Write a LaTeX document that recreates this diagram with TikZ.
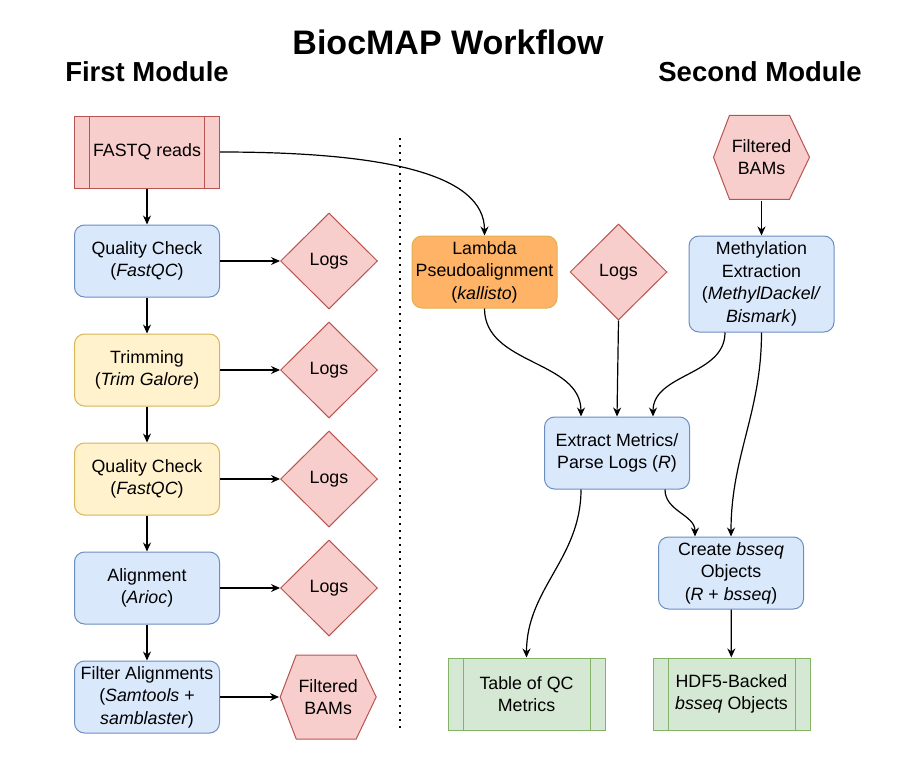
\documentclass[tikz,border=0pt]{standalone}
\usepackage{fontspec}
\setmainfont{Liberation Sans}
\usetikzlibrary{arrows.meta,positioning}
\usetikzlibrary{shapes.geometric}
\definecolor{redfill}{HTML}{F8CECC}
\definecolor{redline}{HTML}{B85450}
\definecolor{bluefill}{HTML}{DAE8FC}
\definecolor{blueline}{HTML}{6C8EBF}
\definecolor{yelfill}{HTML}{FFF2CC}
\definecolor{yelline}{HTML}{D6B656}
\definecolor{grnfill}{HTML}{D5E8D4}
\definecolor{grnline}{HTML}{82B366}
\definecolor{orgfill}{HTML}{FFB366}
\definecolor{orgline}{HTML}{E0B050}
\newcommand\nodefont{\fontsize{17.8}{22.5}\selectfont}
\tikzset{
  box/.style={draw, rounded corners=10pt, line width=1pt, minimum width=145pt, minimum height=72pt, align=center, font=\nodefont},
  bluebox/.style={box, fill=bluefill, draw=blueline},
  yelbox/.style={box, fill=yelfill, draw=yelline},
  orgbox/.style={box, fill=orgfill, draw=orgline},
  procbox/.style={draw=#1, line width=1pt, minimum width=157pt, minimum height=72pt, align=center, font=\nodefont,
    path picture={\draw[#1, line width=1pt] ([xshift=15pt]path picture bounding box.north west) -- ([xshift=15pt]path picture bounding box.south west)
      ([xshift=-15pt]path picture bounding box.north east) -- ([xshift=-15pt]path picture bounding box.south east);}},
  logs/.style={diamond, aspect=1, draw=redline, fill=redfill, line width=1pt, minimum width=97pt, minimum height=96pt, inner sep=0pt, font=\nodefont},
  hexbox/.style={minimum width=98pt, minimum height=86pt, align=center, font=\nodefont,
    path picture={\filldraw[draw=redline, fill=redfill, line width=1pt]
      ([xshift=1pt]path picture bounding box.west) -- ([xshift=17pt,yshift=-1pt]path picture bounding box.north west)
      -- ([xshift=-21pt,yshift=-1pt]path picture bounding box.north east) -- ([xshift=-1pt]path picture bounding box.east)
      -- ([xshift=-21pt,yshift=1pt]path picture bounding box.south east) -- ([xshift=17pt,yshift=1pt]path picture bounding box.south west) -- cycle;}},
  arr/.style={line width=1.2pt, -{Stealth[length=9pt,width=8pt]}}
}

\begin{document}
\begin{tikzpicture}[x=1pt,y=-1pt]
\useasboundingbox (0,0) rectangle (908,768);
% headings
\node[font=\bfseries\fontsize{34}{40}\selectfont] (title) at (448,42) {BiocMAP Workflow};
\node[font=\bfseries\fontsize{27.5}{32}\selectfont] (first) at (147,72) {First Module};
\node[font=\bfseries\fontsize{27.5}{32}\selectfont] (second) at (760,72) {Second Module};
% first module
\node[procbox=redline, fill=redfill, minimum width=145pt] (fastq) at (147,152) {FASTQ reads};
\node[bluebox, below=36pt of fastq] (qcA) {Quality Check\\(\textit{FastQC})};
\node[yelbox, below=36pt of qcA] (trim) {Trimming\\(\textit{Trim Galore})};
\node[yelbox, below=36pt of trim] (qcB) {Quality Check\\(\textit{FastQC})};
\node[bluebox, below=36pt of qcB] (align) {Alignment\\(\textit{Arioc})};
\node[bluebox, below=36pt of align] (filter) {Filter Alignments\\(\textit{Samtools} +\\\textit{samblaster})};
\node[logs, right=60pt of qcA] (logsA) {Logs};
\node[logs, right=60pt of trim] (logsB) {Logs};
\node[logs, right=60pt of qcB] (logsC) {Logs};
\node[logs, right=60pt of align] (logsD) {Logs};
\node[hexbox, right=59pt of filter] (bamsA) {Filtered\\BAMs};
% separator
\coordinate (sepTop) at (400,138);
\coordinate (sepBot) at (400,730);
\draw[line width=1.5pt, dash pattern=on 1.5pt off 5.5pt] (sepTop) -- (sepBot);
% second module
\node[orgbox] (lambda) at (484.5,272) {Lambda\\Pseudoalignment\\(\textit{kallisto})};
\node[logs, right=12pt of lambda] (logsE) {Logs};
\node[bluebox, minimum height=96pt] (methyl) at (761.5,284) {Methylation\\Extraction\\(\textit{MethylDackel/}\\\textit{Bismark})};
\node[hexbox, above=35pt of methyl] (bamsB) {Filtered\\BAMs};
\node[bluebox] (extract) at (617,453) {Extract Metrics/\\Parse Logs (\textit{R})};
\node[bluebox] (create) at (731,573) {Create \textit{bsseq}\\Objects\\(\textit{R} + \textit{bsseq})};
\node[procbox=grnline, fill=grnfill] (qctable) at (526.5,694) {Table of QC\\Metrics};
\node[procbox=grnline, fill=grnfill] (hdf) at (731.5,694) {HDF5-Backed\\\textit{bsseq} Objects};
% connectors
\draw[arr] (fastq) -- (qcA);
\draw[arr] (qcA) -- (trim);
\draw[arr] (trim) -- (qcB);
\draw[arr] (qcB) -- (align);
\draw[arr] (align) -- (filter);
\draw[arr] (qcA) -- (logsA);
\draw[arr] (trim) -- (logsB);
\draw[arr] (qcB) -- (logsC);
\draw[arr] (align) -- (logsD);
\draw[arr] (filter) -- (bamsA);
\draw[arr] (fastq.east) .. controls ([xshift=170pt]fastq.east) and ([yshift=60pt]lambda.north) .. (lambda.north);
\draw[arr] (bamsB) -- (methyl);
\draw[arr] (lambda.south) to[out=-90,in=90] ([xshift=-36pt]extract.north);
\draw[arr] (logsE.south) -- (extract.north);
\draw[arr] ([xshift=-36.5pt]methyl.south) to[out=-90,in=90] ([xshift=36pt]extract.north);
\draw[arr] (methyl.south) to[out=-90,in=90] (create.north);
\draw[arr] ([xshift=-36pt]extract.south) to[out=-90,in=90] (qctable.north);
\draw[arr] ([xshift=48pt]extract.south) to[out=-90,in=90] ([xshift=-36pt]create.north);
\draw[arr] (create) -- (hdf);
\end{tikzpicture}
\end{document}
